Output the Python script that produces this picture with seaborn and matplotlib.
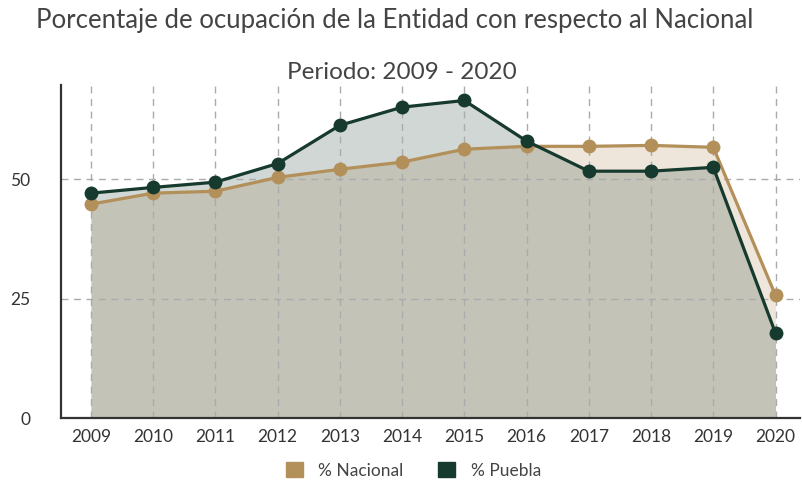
import pandas as pd
import seaborn as sns
import matplotlib.pyplot as plt
from matplotlib.patches import Patch

# Data
years = [2009, 2010, 2011, 2012, 2013, 2014, 2015, 2016, 2017, 2018, 2019, 2020]
nacional = [44.8, 47.1, 47.5, 50.4, 52.1, 53.6, 56.3, 56.9, 56.9, 57.1, 56.7, 25.7]
puebla = [47.1, 48.3, 49.4, 53.3, 61.3, 65.1, 66.5, 58.0, 51.7, 51.7, 52.5, 17.8]
series_names = ['% Nacional', '% Puebla']
series_colors = ['#b38f5a', '#173a2e']

df = pd.DataFrame({'year': years, '% Nacional': nacional, '% Puebla': puebla})
long_df = df.melt(id_vars='year', var_name='serie', value_name='valor')

sns.set_theme(style='white')
plt.rcParams['font.family'] = ['Lato', 'DejaVu Sans']

fig = plt.figure(figsize=(8.03, 4.84), dpi=100)
ax = fig.add_axes([0.076, 0.136, 0.92, 0.688])

# Filled areas under each line
ax.fill_between(df['year'], df['% Nacional'], color=series_colors[0], alpha=0.22, linewidth=0, zorder=1)
ax.fill_between(df['year'], df['% Puebla'], color=series_colors[1], alpha=0.2, linewidth=0, zorder=1)

sns.lineplot(data=long_df, x='year', y='valor', hue='serie', hue_order=series_names,
             palette=series_colors, marker='o', markersize=10, markeredgewidth=0,
             linewidth=2.3, legend=False, ax=ax, zorder=3)

# Dashed grid between fill and lines
ax.set_axisbelow('line')
ax.grid(True, linestyle=(0, (5, 4)), color='#ababab', linewidth=1.0)
ax.set_xticks(years)
ax.set_yticks([0, 25, 50])
ax.set_xlim(2008.52, 2020.39)
ax.set_ylim(0, 69.7)
ax.set_xlabel('')
ax.set_ylabel('')
ax.tick_params(axis='both', labelsize=12.5, colors='#333333', length=0, pad=8)
ax.tick_params(axis='y', pad=22)

for side in ['top', 'right']:
    ax.spines[side].set_visible(False)
for side in ['left', 'bottom']:
    ax.spines[side].set_color('#333333')
    ax.spines[side].set_linewidth(1.6)

fig.text(0.492, 0.958, 'Porcentaje de ocupación de la Entidad con respecto al Nacional',
         ha='center', va='center', fontsize=18.5, color='#444444')
fig.text(0.5, 0.851, 'Periodo: 2009 - 2020', ha='center', va='center',
         fontsize=17.5, color='#444444')

handles = [Patch(facecolor=c, edgecolor=c, label=n) for n, c in zip(series_names, series_colors)]
fig.legend(handles=handles, loc='center', bbox_to_anchor=(0.515, 0.028), ncol=2,
           frameon=False, fontsize=12.5, handlelength=0.95, handleheight=0.95,
           columnspacing=2.0, handletextpad=0.9, labelcolor='#444444')

fig.savefig('out.png', dpi=100)
